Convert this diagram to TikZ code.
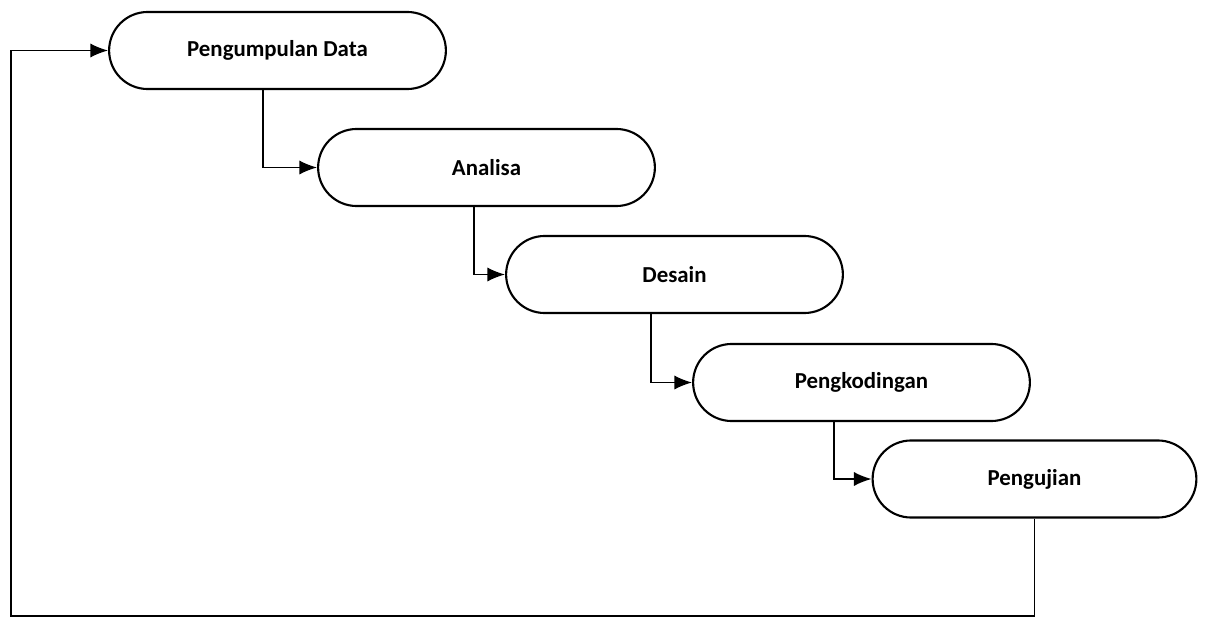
\documentclass[tikz,border=0pt]{standalone}
\usepackage{fontspec}
\setmainfont{Carlito}
\usetikzlibrary{arrows.meta,shapes.misc}

\begin{document}
\begin{tikzpicture}[
    x=0.01cm, y=-0.01cm,
    stage node/.style={rounded rectangle, draw=black, fill=white, line width=0.6pt, minimum width=3.60cm, minimum height=0.77cm, font=\bfseries\fontsize{6.5}{8}\selectfont},
    flow edge/.style={line width=0.45pt, draw=black, -{Latex[length=5pt,width=4pt]}}
]
\useasboundingbox (0,0) rectangle (1217,618);

% tahapan waterfall, turun bertingkat ke kanan
\node[stage node] (kumpul) at (277.5, 50.5)  {Pengumpulan Data};
\node[stage node] (analisa) at (486.5, 167.5) {Analisa};
\node[stage node] (desain) at (674.5, 274.5) {Desain};
\node[stage node] (kode)   at (861.5, 382.5) {Pengkodingan};
\node[stage node, minimum width=3.47cm] (uji) at (1034.5, 479) {Pengujian};

% panah antar tahapan
\draw[flow edge] ([xshift=-0.145cm]kumpul.south)  |- (analisa.west);
\draw[flow edge] ([xshift=-0.125cm]analisa.south) |- (desain.west);
\draw[flow edge] ([xshift=-0.235cm]desain.south)  |- (kode.west);
\draw[flow edge] ([xshift=-0.275cm]kode.south)    |- (uji.west);

% umpan balik dari pengujian ke pengumpulan data
\coordinate (balik) at (11, 616);
\draw[flow edge] (uji.south) |- (balik) |- (kumpul.west);

\end{tikzpicture}
\end{document}
